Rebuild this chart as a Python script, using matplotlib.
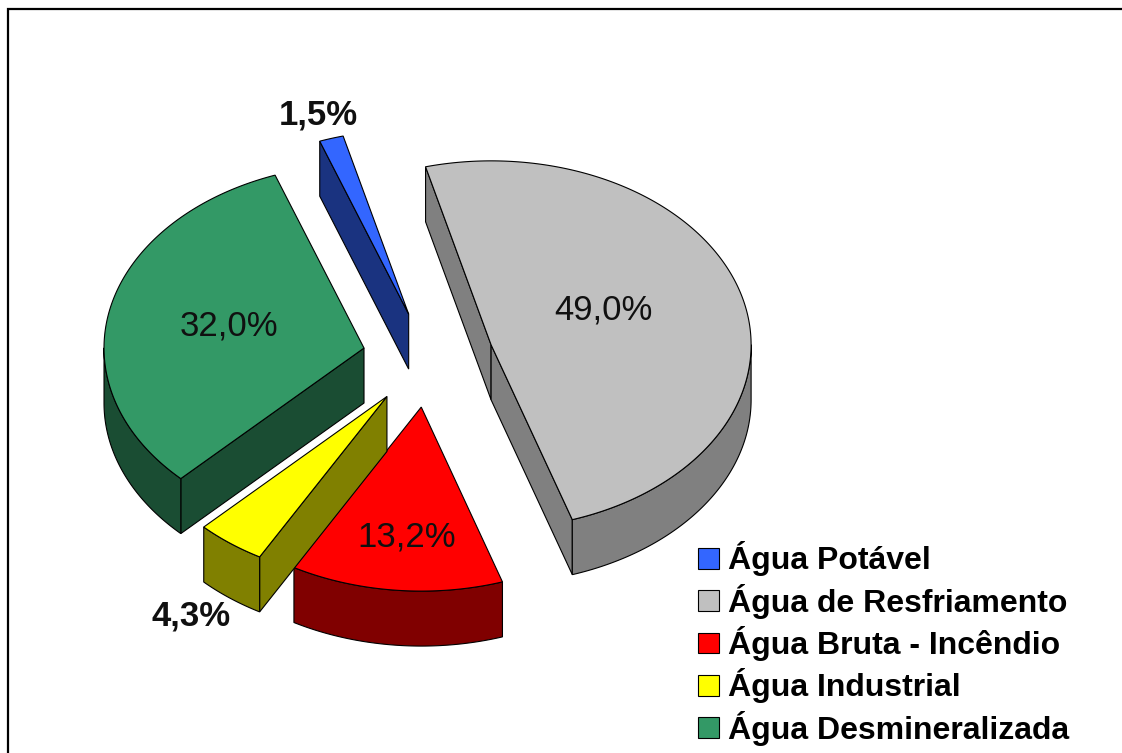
"""Exploded 3D pie of water use, drawn by hand because matplotlib has no 3D pie."""

import numpy as np
import matplotlib

matplotlib.use("Agg")
import matplotlib.pyplot as plt
from matplotlib.patches import Patch, Polygon

plt.rcParams["font.family"] = ["Liberation Sans", "DejaVu Sans"]

# data
categories = [
    "Água Potável",
    "Água de Resfriamento",
    "Água Bruta - Incêndio",
    "Água Industrial",
    "Água Desmineralizada",
]
shares = [1.5, 49.0, 13.2, 4.3, 32.0]
share_labels = ["1,5%", "49,0%", "13,2%", "4,3%", "32,0%"]

# styles
top_colors = ["#3366ff", "#c0c0c0", "#ff0000", "#ffff00", "#339966"]
side_colors = ["#1a3380", "#808080", "#800000", "#808000", "#1a4d33"]
explode = [0.25, 0.253, 0.268, 0.262, 0.252]
label_pos = [(318, 115), (603, 310), (407, 537), (191, 616), (229, 326)]
label_bold = [True, False, False, True, False]

# layout, in pixels
W, H = 1122, 753
CX, CY = 428, 358
RX, RY = 260, 184
DEPTH = 55
START = -20.0  # degrees clockwise from the top
LW = 0.8


def rim(theta):
    """Point on the unit ellipse for angles clockwise from the top."""
    t = np.radians(theta)
    return RX * np.sin(t), -RY * np.cos(t)


def extrude(ax, pts, color):
    """Draw the wall hanging below a run of top-face points."""
    pts = np.asarray(pts)
    low = pts[::-1] + [0, DEPTH]
    ax.add_patch(Polygon(np.vstack([pts, low]), closed=True, fc=color, ec="black", lw=LW))


def draw_slice(ax, a0, a1, ex, top, side):
    mid = 0.5 * (a0 + a1)
    mx, my = rim(mid)
    apex = np.array([CX + ex * mx, CY + ex * my])
    thetas = np.linspace(a0, a1, max(int(a1 - a0) * 2, 4))
    xr, yr = rim(thetas)
    arc = np.column_stack([apex[0] + xr, apex[1] + yr])

    # radial walls and the part of the arc that faces the viewer (moving left)
    if arc[0, 0] < apex[0]:
        extrude(ax, [apex, arc[0]], side)
    if apex[0] < arc[-1, 0]:
        extrude(ax, [arc[-1], apex], side)
    facing = np.where(np.diff(arc[:, 0]) < 0)[0]
    if len(facing):
        extrude(ax, arc[facing[0]: facing[-1] + 2], side)

    ax.add_patch(Polygon(np.vstack([apex, arc]), closed=True, fc=top, ec="black", lw=LW))


fig = plt.figure(figsize=(W / 100, H / 100), dpi=100)
ax = fig.add_axes([0, 0, 1, 1])
ax.set_xlim(0, W)
ax.set_ylim(H, 0)
ax.axis("off")

# frame runs off the right and bottom of the picture
ax.plot([8.5, 8.5, W], [H, 9, 9], color="black", lw=1.6, solid_joinstyle="miter")

edges = START + np.concatenate([[0], np.cumsum(shares)]) / sum(shares) * 360
for i in range(len(shares)):
    draw_slice(ax, edges[i], edges[i + 1], explode[i], top_colors[i], side_colors[i])

for txt, (x, y), bold in zip(share_labels, label_pos, label_bold):
    ax.text(x, y, txt, ha="center", va="center", fontsize=25, color="#101010",
            fontweight="bold" if bold else "normal")

handles = [Patch(fc=c, ec="black", lw=LW) for c in top_colors]
ax.legend(handles, categories, loc="lower left", bbox_to_anchor=(695 / W, 1 - 749 / H),
          frameon=False, prop={"size": 23, "weight": "bold"}, handlelength=0.66,
          handleheight=0.62, handletextpad=0.28, labelspacing=0.23, borderpad=0.1,
          borderaxespad=0)

fig.savefig("out.png", dpi=100)
